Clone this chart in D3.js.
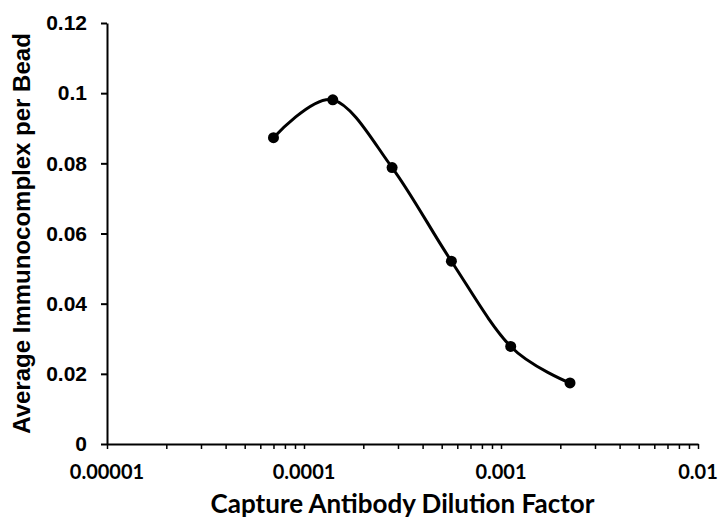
<!DOCTYPE html>
<html>
<head>
<meta charset="utf-8">
<script src="https://cdn.jsdelivr.net/npm/d3@7"></script>
<style>
  body { margin: 0; background: #fff; }
  svg { display: block; }
</style>
</head>
<body>
<div id="chart"></div>
<script>
// dilution factors (x) and average immunocomplex per bead (y)
const dilution = [0.00007, 0.00014, 0.00028, 0.00056, 0.00112, 0.00224];
const immunocomplex = [0.0873, 0.0981, 0.0788, 0.0521, 0.0278, 0.0174];
const xTickValues = [0.00001, 0.0001, 0.001, 0.01];
const xTickLabels = ["0.00001", "0.0001", "0.001", "0.01"];
const yTickValues = [0, 0.02, 0.04, 0.06, 0.08, 0.1, 0.12];
const yTickLabels = ["0", "0.02", "0.04", "0.06", "0.08", "0.1", "0.12"];

const width = 720, height = 519;
const margin = {top: 23, right: 22, bottom: 75, left: 107};

const svg = d3.select("#chart").append("svg")
    .attr("width", width)
    .attr("height", height);

const x = d3.scaleLog()
    .domain([0.00001, 0.01])
    .range([margin.left, width - margin.right]);

const y = d3.scaleLinear()
    .domain([0, 0.12])
    .range([height - margin.bottom, margin.top]);

// minor + major ticks on the log axis
const allTicks = [];
for (let e = -5; e < -2; e++) {
    for (let m = 1; m < 10; m++) allTicks.push(m * Math.pow(10, e));
}
allTicks.push(0.01);

const xAxis = svg.append("g")
    .attr("transform", `translate(0,${height - margin.bottom})`)
    .call(d3.axisBottom(x).tickValues(allTicks).tickSize(5).tickSizeOuter(0).tickFormat(""));
xAxis.select(".domain").attr("stroke", "#000").attr("stroke-width", 2);
xAxis.selectAll(".tick line").attr("stroke", "#000").attr("stroke-width", 1.5);

svg.append("g").selectAll("text")
    .data(xTickValues)
    .enter().append("text")
    .attr("x", d => x(d))
    .attr("y", height - margin.bottom + 35)
    .attr("text-anchor", "middle")
    .attr("font-family", "Lato, 'Open Sans', sans-serif")
    .attr("font-weight", "bold")
    .attr("font-size", "20px")
    .text((d, i) => xTickLabels[i]);

const yAxis = svg.append("g")
    .attr("transform", `translate(${margin.left},0)`)
    .call(d3.axisLeft(y).tickValues(yTickValues).tickSize(6).tickSizeOuter(0)
        .tickFormat((d, i) => yTickLabels[i]));
yAxis.select(".domain").attr("stroke", "#000").attr("stroke-width", 2);
yAxis.selectAll(".tick line").attr("stroke", "#000").attr("stroke-width", 2);
yAxis.selectAll(".tick text")
    .attr("x", -20)
    .attr("font-family", "'Liberation Sans', Arial, sans-serif")
    .attr("font-weight", "bold")
    .attr("font-size", "21px")
    .attr("fill", "#000");

// axis titles
svg.append("text")
    .attr("x", (margin.left + width - margin.right) / 2)
    .attr("y", 513)
    .attr("text-anchor", "middle")
    .attr("font-family", "Lato, 'Open Sans', sans-serif")
    .attr("font-weight", "bold")
    .attr("font-size", "26px")
    .text("Capture Antibody Dilution Factor");

svg.append("text")
    .attr("transform", `translate(30,${(margin.top + height - margin.bottom) / 2}) rotate(-90)`)
    .attr("text-anchor", "middle")
    .attr("font-family", "'Liberation Sans', Arial, sans-serif")
    .attr("font-weight", "bold")
    .attr("font-size", "24px")
    .text("Average Immunocomplex per Bead");

const points = dilution.map((d, i) => [d, immunocomplex[i]]);

const line = d3.line()
    .x(d => x(d[0]))
    .y(d => y(d[1]))
    .curve(d3.curveCardinal.tension(0));

svg.append("path")
    .datum(points)
    .attr("fill", "none")
    .attr("stroke", "#000")
    .attr("stroke-width", 3)
    .attr("d", line);

svg.append("g").selectAll("circle")
    .data(points)
    .enter().append("circle")
    .attr("cx", d => x(d[0]))
    .attr("cy", d => y(d[1]))
    .attr("r", 5.5)
    .attr("fill", "#000");
</script>
</body>
</html>
